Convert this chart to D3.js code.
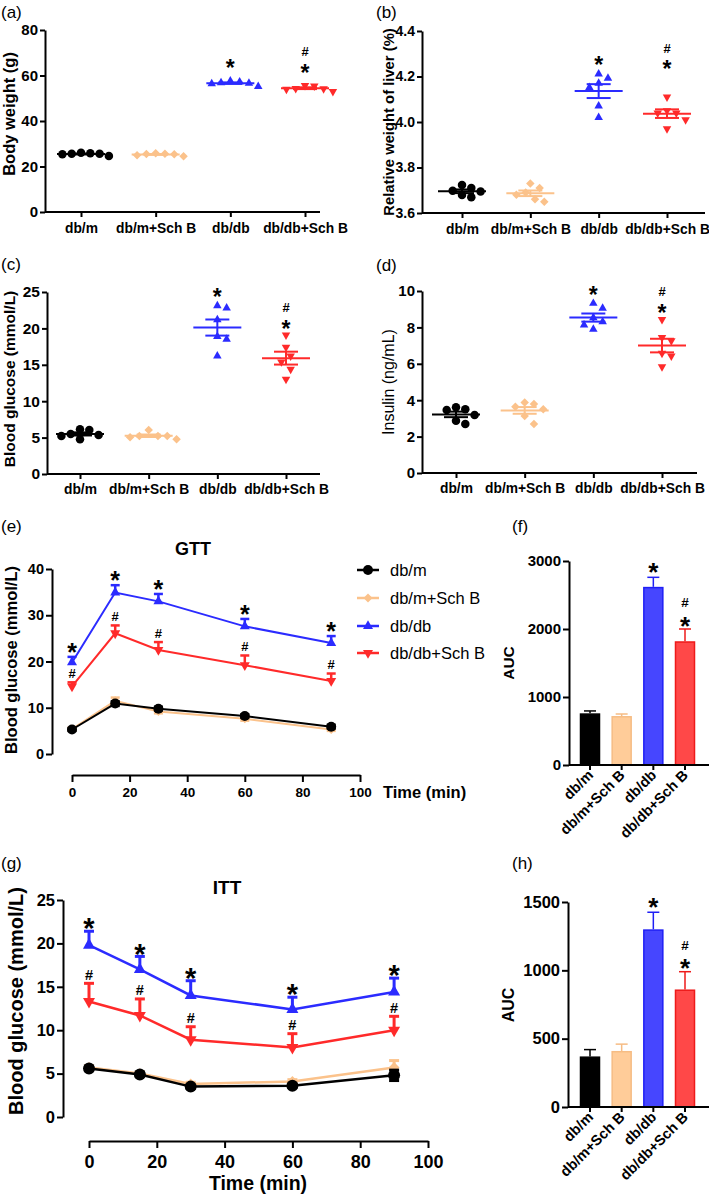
<!DOCTYPE html>
<html><head><meta charset="utf-8">
<script src="https://cdn.jsdelivr.net/npm/d3@7"></script>
<style>body{margin:0;background:#fff} svg{display:block}</style>
</head><body><svg id="c" width="709" height="1194"></svg>
<script>
// ---------------- DATA ----------------
const groups = ["db/m", "db/m+Sch B", "db/db", "db/db+Sch B"];

const bodyWeight = [
  [25.8, 25.6, 25.4, 26.0, 25.6, 24.6],
  [25.6, 25.5, 25.4, 25.8, 25.0, 24.5],
  [57.2, 56.8, 56.6, 57.6, 56.4, 55.2],
  [55.4, 54.2, 54.3, 55.6, 54.0, 53.0]];
const liverWeight = [
  [3.710, 3.698, 3.723, 3.694, 3.679, 3.669],
  [3.69, 3.71, 3.73, 3.68, 3.66, 3.65],
  [4.192, 4.211, 4.170, 4.152, 4.070, 4.020],
  [4.11, 4.04, 4.05, 4.04, 4.01, 3.97]];
const fastingGlucose = [
  [6.04, 5.49, 5.36, 6.14, 5.22, 4.77],
  [5.22, 5.22, 5.22, 6.04, 5.04, 4.77],
  [22.8, 23.1, 21.2, 18.9, 18.5, 16.2],
  [19.1, 17.4, 16.2, 15.4, 14.4, 13.0]];
const insulin = [
  [3.46, 3.19, 3.50, 2.87, 3.61, 2.69],
  [3.79, 3.64, 3.50, 3.13, 3.88, 2.69],
  [9.05, 9.32, 8.31, 8.13, 8.53, 7.90],
  [8.44, 7.45, 7.27, 6.43, 6.58, 5.84]];

// significance marker levels (data units) for scatter panels: [db/db "*", db/db+Sch B "*", db/db+Sch B "#"]
const bodyWeightSig = [65.5, 63.3, 70.6];
const liverWeightSig = [4.273, 4.255, 4.325];
const fastingGlucoseSig = [25.0, 20.6, 22.9];
const insulinSig = [10.05, 9.07, 9.98];

const timePoints = [0, 15, 30, 60, 90];
const gttDbm = [5.3, 10.9, 9.8, 8.2, 5.9];
const gttDbmSchB = [5.4, 11.5, 9.2, 7.6, 5.3];
const gttDbdb = [19.8, 34.9, 33.0, 27.6, 24.0];
const gttDbdbSchB = [14.6, 26.1, 22.5, 19.2, 15.8];
const gttDbmSem = [0.3, 0.5, 0.4, 0.4, 0.4];
const gttDbmSchBSem = [0.3, 0.7, 0.4, 0.4, 0.3];
const gttDbdbSem = [1.2, 1.6, 1.6, 1.6, 1.5];
const gttDbdbSchBSem = [0.9, 1.7, 1.7, 2.1, 1.6];

const ittDbm = [5.6, 4.9, 3.5, 3.6, 4.8];
const ittDbmSchB = [5.7, 5.0, 3.8, 4.1, 5.7];
const ittDbdb = [19.8, 17.0, 14.0, 12.4, 14.4];
const ittDbdbSchB = [13.3, 11.7, 8.9, 8.0, 10.0];
const ittDbmSem = [0.2, 0.2, 0.2, 0.2, 0.6];
const ittDbmSchBSem = [0.2, 0.2, 0.2, 0.2, 0.8];
const ittDbdbSem = [1.6, 1.5, 1.7, 1.4, 1.6];
const ittDbdbSchBSem = [2.1, 1.9, 1.5, 1.6, 1.6];

const gttAuc = [760, 720, 2620, 1820];
const gttAucSem = [35, 30, 140, 180];
const ittAuc = [370, 410, 1300, 860];
const ittAucSem = [50, 50, 125, 130];

const tickTime = [0, 20, 40, 60, 80, 100];

// ---------------- STYLE ----------------
const FONT = '"Liberation Sans", Arial, Helvetica, sans-serif';
const colors = ["#000000", "#FBC28B", "#2B2BFF", "#FF2A2A"];
const barFill = ["#000000", "#FFCC99", "#4646FF", "#FF4848"];
const barStroke = ["#000000", "#F6BC84", "#1F1FF5", "#EE1A1A"];
const shapes = ["circle", "diamond", "up", "down"];

const svg = d3.select("#c");
svg.append("rect").attr("width", 709).attr("height", 1194).attr("fill", "#fff");

function txt(g, x, y, s, fs, o = {}) {
  const t = g.append("text").attr("x", x).attr("y", y).text(s)
    .attr("font-family", FONT).attr("font-size", fs)
    .attr("font-weight", o.bold ? "bold" : "normal")
    .attr("fill", o.fill || "#000")
    .attr("text-anchor", o.anchor || "start");
  if (o.rotate) t.attr("transform", `rotate(${o.rotate},${x},${y})`);
  return t;
}
function star(g, cx, cy, fs) { return txt(g, cx, cy + 0.56 * fs, "*", fs, {bold: true, anchor: "middle"}); }
function hash(g, cx, cy, fs) { return txt(g, cx, cy + 0.36 * fs, "#", fs, {bold: true, anchor: "middle"}); }

function marker(g, shape, cx, cy, s, color) {
  if (shape === "circle") {
    g.append("circle").attr("cx", cx).attr("cy", cy).attr("r", s / 2).attr("fill", color);
    return;
  }
  const p = d3.path();
  if (shape === "diamond") {
    const h = s / 2;
    p.moveTo(cx, cy - h); p.lineTo(cx + h, cy); p.lineTo(cx, cy + h); p.lineTo(cx - h, cy); p.closePath();
  } else {
    const H = s * 0.88, dir = shape === "up" ? 1 : -1;
    p.moveTo(cx, cy - dir * 2 * H / 3); p.lineTo(cx + s / 2, cy + dir * H / 3); p.lineTo(cx - s / 2, cy + dir * H / 3); p.closePath();
  }
  g.append("path").attr("d", p.toString()).attr("fill", color);
}

function styleAxis(g, fs, bold = true) {
  g.attr("font-family", FONT).attr("font-size", fs).attr("font-weight", bold ? "bold" : "normal");
  g.select(".domain").attr("stroke", "#000").attr("stroke-width", 2);
  g.selectAll(".tick line").attr("stroke", "#000").attr("stroke-width", 2);
  g.selectAll(".tick text").attr("fill", "#000");
}

function hline(g, x1, x2, y, color, w) {
  g.append("line").attr("x1", x1).attr("x2", x2).attr("y1", y).attr("y2", y).attr("stroke", color).attr("stroke-width", w);
}
function vline(g, x, y1, y2, color, w) {
  g.append("line").attr("x1", x).attr("x2", x).attr("y1", y1).attr("y2", y2).attr("stroke", color).attr("stroke-width", w);
}

function swarm(pys, d) {
  const idx = d3.range(pys.length).sort((a, b) => pys[a] - pys[b]);
  const placed = [], offs = new Array(pys.length);
  idx.forEach(i => {
    let k = 0, off = 0;
    while (true) {
      off = k === 0 ? 0 : (k % 2 ? 1 : -1) * Math.ceil(k / 2) * d / 2;
      if (placed.every(p => Math.hypot(p.x - off, p.y - pys[i]) >= d)) break;
      k++;
    }
    placed.push({x: off, y: pys[i]}); offs[i] = off;
  });
  return offs;
}

// ---------------- SCATTER PANELS ----------------
function scatterPanel(o) {
  const g = svg.append("g");
  const y = d3.scaleLinear().domain(o.yDomain).range([o.yBottom, o.yTop]);
  const x = d3.scalePoint().domain(groups).range(o.catRange);
  g.append("g").attr("transform", `translate(${o.axisX},0)`)
    .call(d3.axisLeft(y).tickValues(o.yTicks).tickFormat(o.fmt).tickSize(5).tickSizeOuter(0).tickPadding(2))
    .call(styleAxis, o.tickFs);
  const xa = g.append("g").attr("transform", `translate(0,${o.yBottom})`)
    .call(d3.axisBottom(x).tickSize(5).tickPadding(o.catPad).tickSizeOuter(0))
    .call(styleAxis, o.catFs);
  xa.select(".domain").remove();
  hline(g, o.axisX, o.axisEnd, o.yBottom, "#000", 2);

  o.data.forEach((vals, i) => {
    const cx = x(groups[i]);
    const pys = vals.map(y);
    const offs = swarm(pys, o.ms + 0.8);
    vals.forEach((v, j) => marker(g, shapes[i], cx + offs[j], pys[j], o.ms, colors[i]));
    const m = d3.mean(vals), se = d3.deviation(vals) / Math.sqrt(vals.length);
    hline(g, cx - 24, cx + 24, y(m), colors[i], 2);
    vline(g, cx, y(m - se), y(m + se), colors[i], 2);
    hline(g, cx - 12, cx + 12, y(m - se), colors[i], 2);
    hline(g, cx - 12, cx + 12, y(m + se), colors[i], 2);
  });
  star(g, x(groups[2]), y(o.sig[0]), 23);
  star(g, x(groups[3]), y(o.sig[1]), 23);
  hash(g, x(groups[3]), y(o.sig[2]), 13);

  txt(g, o.titleX, o.titleY, o.title, o.titleFs, {bold: o.titleBold, anchor: "middle", rotate: -90});
}

scatterPanel({data: bodyWeight, sig: bodyWeightSig, yDomain: [0, 80], yTicks: [0, 20, 40, 60, 80], fmt: d3.format("d"),
  axisX: 45, axisEnd: 320, yTop: 30, yBottom: 212, catRange: [81, 305], tickFs: 15, catFs: 13.8, catPad: 6, ms: 8.5,
  title: "Body weight (g)", titleX: 15, titleY: 114, titleFs: 16.5, titleBold: true});
scatterPanel({data: liverWeight, sig: liverWeightSig, yDomain: [3.6, 4.4], yTicks: [3.6, 3.8, 4.0, 4.2, 4.4], fmt: d3.format(".1f"),
  axisX: 422, axisEnd: 705, yTop: 31, yBottom: 213, catRange: [462, 667], tickFs: 14, catFs: 13.8, catPad: 6, ms: 8.5,
  title: "Relative weight of liver (%)", titleX: 394, titleY: 122, titleFs: 14.8, titleBold: true});
scatterPanel({data: fastingGlucose, sig: fastingGlucoseSig, yDomain: [0, 25], yTicks: [0, 5, 10, 15, 20, 25], fmt: d3.format("d"),
  axisX: 47, axisEnd: 320, yTop: 292, yBottom: 474, catRange: [80, 286], tickFs: 15.5, catFs: 13.8, catPad: 5, ms: 8.5,
  title: "Blood glucose (mmol/L)", titleX: 15, titleY: 379, titleFs: 15.5, titleBold: true});
scatterPanel({data: insulin, sig: insulinSig, yDomain: [0, 10], yTicks: [0, 2, 4, 6, 8, 10], fmt: d3.format("d"),
  axisX: 422, axisEnd: 697, yTop: 291, yBottom: 473, catRange: [456, 662], tickFs: 15, catFs: 13.8, catPad: 5, ms: 8.5,
  title: "Insulin (ng/mL)", titleX: 394, titleY: 382, titleFs: 16, titleBold: false});

// ---------------- LINE PANELS ----------------
function linePanel(o) {
  const g = svg.append("g");
  const x = d3.scaleLinear().domain([0, 100]).range([o.x0, o.x1]);
  const y = d3.scaleLinear().domain([0, o.yMax]).range([o.yBottom, o.yTop]);
  g.append("g").attr("transform", `translate(${o.yAxisX},0)`)
    .call(d3.axisLeft(y).tickValues(o.yTicks).tickSize(6).tickSizeOuter(0).tickPadding(2))
    .call(styleAxis, o.yTickFs);
  g.append("g").attr("transform", `translate(0,${o.xAxisY})`)
    .call(d3.axisBottom(x).tickValues(tickTime).tickSize(7).tickSizeOuter(0).tickPadding(o.xPad))
    .call(styleAxis, o.xTickFs);

  const order = [1, 0, 3, 2];
  order.forEach(i => {
    const means = o.means[i], sems = o.sems[i], c = colors[i];
    const line = d3.line().x((d, k) => x(timePoints[k])).y(d => y(d));
    g.append("path").attr("d", line(means)).attr("fill", "none").attr("stroke", c).attr("stroke-width", o.lw);
    means.forEach((m, k) => {
      const cx = x(timePoints[k]);
      const top = y(m + sems[k]);
      const bot = i < 2 ? y(m - sems[k]) : y(m);
      vline(g, cx, bot, top, c, o.ew);
      hline(g, cx - o.cap, cx + o.cap, top, c, o.ew);
      if (i < 2) hline(g, cx - o.cap, cx + o.cap, bot, c, o.ew);
    });
    means.forEach((m, k) => marker(g, shapes[i], x(timePoints[k]), y(m), i === 1 ? o.ms * 0.9 : o.ms, c));
  });
  // significance
  o.means[2].forEach((m, k) => star(g, x(timePoints[k]), y(m + o.sems[2][k]) - o.starGap, o.starFs));
  o.means[3].forEach((m, k) => hash(g, x(timePoints[k]), y(m + o.sems[3][k]) - o.hashGap, o.hashFs));

  txt(g, o.titleX, o.titleY, o.title, o.titleFs, {bold: true, anchor: "middle"});
  txt(g, o.yLabX, o.yLabY, "Blood glucose (mmol/L)", o.yLabFs, {bold: true, anchor: "middle", rotate: -90});
  txt(g, o.xLabX, o.xLabY, "Time (min)", o.xLabFs, {bold: true, anchor: o.xLabAnchor});
  return g;
}

const gE = linePanel({means: [gttDbm, gttDbmSchB, gttDbdb, gttDbdbSchB], sems: [gttDbmSem, gttDbmSchBSem, gttDbdbSem, gttDbdbSchBSem],
  x0: 72, x1: 360, yAxisX: 52, yTop: 569, yBottom: 754, yMax: 40, yTicks: [0, 10, 20, 30, 40], xAxisY: 775,
  yTickFs: 14.5, xTickFs: 13.5, xPad: 5, lw: 2, ew: 2.5, cap: 4.5, ms: 10,
  starGap: 10, starFs: 25, hashGap: 9, hashFs: 13,
  title: "GTT", titleX: 193, titleY: 555, titleFs: 18,
  yLabX: 17, yLabY: 660, yLabFs: 16.5, xLabX: 383, xLabY: 798, xLabFs: 16.5, xLabAnchor: "start"});

// legend
const legY = [570, 598, 626, 653];
groups.forEach((gname, i) => {
  hline(gE, 357, 379, legY[i], colors[i], 2.5);
  marker(gE, shapes[i], 368, legY[i], i === 1 ? 9 : 10, colors[i]);
  txt(gE, 390, legY[i] + 6, gname, 16.5);
});

linePanel({means: [ittDbm, ittDbmSchB, ittDbdb, ittDbdbSchB], sems: [ittDbmSem, ittDbmSchBSem, ittDbdbSem, ittDbdbSchBSem],
  x0: 89, x1: 428, yAxisX: 63, yTop: 900, yBottom: 1117, yMax: 25, yTicks: [0, 5, 10, 15, 20, 25], xAxisY: 1141,
  yTickFs: 16.5, xTickFs: 18, xPad: 7, lw: 2.5, ew: 3, cap: 5, ms: 12,
  starGap: 9, starFs: 29, hashGap: 9, hashFs: 14.5,
  title: "ITT", titleX: 227, titleY: 894, titleFs: 19,
  yLabX: 23, yLabY: 1001, yLabFs: 20, xLabX: 258, xLabY: 1190, xLabFs: 19.5, xLabAnchor: "middle"});

// ---------------- BAR PANELS ----------------
function barPanel(o) {
  const g = svg.append("g");
  const x = d3.scalePoint().domain(groups).range([590, 685]);
  const y = d3.scaleLinear().domain([0, o.yMax]).range([o.yBottom, o.yTop]);
  g.append("g").attr("transform", `translate(${o.axisX},0)`)
    .call(d3.axisLeft(y).tickValues(o.yTicks).tickFormat(d3.format("d")).tickSize(6).tickSizeOuter(0).tickPadding(2))
    .call(styleAxis, o.tickFs);
  o.vals.forEach((v, i) => {
    const cx = x(groups[i]);
    const top = y(v + o.sems[i]);
    vline(g, cx, y(v), top, barStroke[i], 1.5);
    hline(g, cx - 6, cx + 6, top, barStroke[i], 1.5);
    g.append("rect").attr("x", cx - 9.5).attr("width", 19).attr("y", y(v) + 0.75)
      .attr("height", o.yBottom - y(v) - 0.75).attr("fill", barFill[i]).attr("stroke", barStroke[i]).attr("stroke-width", 1.5);
    vline(g, cx, o.yBottom, o.yBottom + 5, "#000", 2);
    txt(g, cx + 4, o.yBottom + 11, groups[i], o.catFs, {bold: true, anchor: "end", rotate: -45});
  });
  hline(g, o.axisX, 709, o.yBottom, "#000", 2);
  const t2 = y(o.vals[2] + o.sems[2]), t3 = y(o.vals[3] + o.sems[3]);
  star(g, x(groups[2]), t2 - 11, 26);
  star(g, x(groups[3]), t3 - 9, 26);
  hash(g, x(groups[3]), t3 - 27, 13.5);
  txt(g, o.titleX, o.titleY, "AUC", o.titleFs, {bold: true, anchor: "middle", rotate: -90});
}

barPanel({vals: gttAuc, sems: gttAucSem, yMax: 3000, yTicks: [0, 1000, 2000, 3000], axisX: 569, yTop: 561, yBottom: 765,
  tickFs: 15, catFs: 14.5, titleX: 514, titleY: 663, titleFs: 15.5});
barPanel({vals: ittAuc, sems: ittAucSem, yMax: 1500, yTicks: [0, 500, 1000, 1500], axisX: 568, yTop: 902, yBottom: 1107,
  tickFs: 16.5, catFs: 14.5, titleX: 514, titleY: 1005, titleFs: 16});

// ---------------- PANEL LABELS ----------------
const lab = svg.append("g");
[["(a)", 1, 18], ["(b)", 376, 18], ["(c)", 1, 270], ["(d)", 376, 271],
 ["(e)", 1, 532], ["(f)", 512, 532], ["(g)", 1, 869], ["(h)", 512, 869]]
  .forEach(([s, x, y]) => txt(lab, x, y, s, 17));
</script>
</body></html>
